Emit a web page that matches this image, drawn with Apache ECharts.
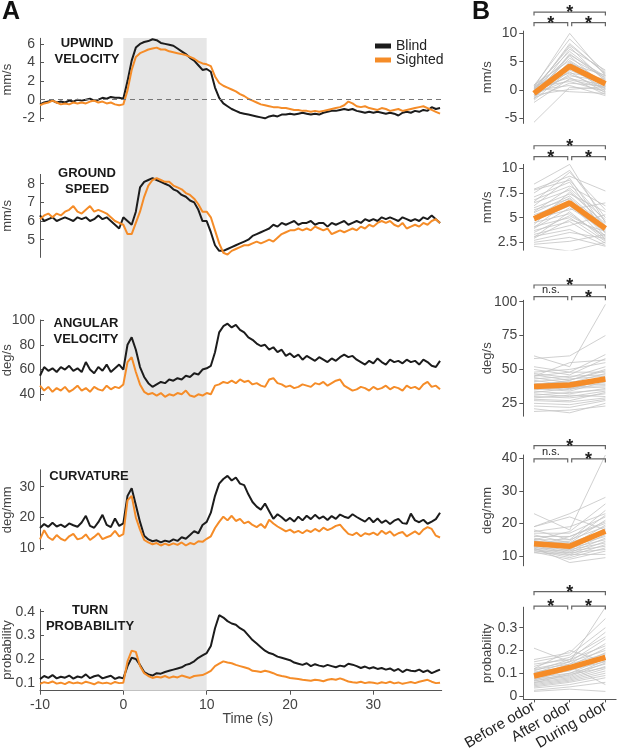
<!DOCTYPE html>
<html>
<head>
<meta charset="utf-8">
<script src="https://cdn.jsdelivr.net/npm/echarts@6/dist/echarts.min.js"></script>
<style>
html,body{margin:0;padding:0;background:#fff}
#chart{width:617px;height:753px}
</style>
</head>
<body>
<div id="chart"></div>
<script>
// time base of the traces in panel A: -10 s .. 38 s, every 0.5 s
var times = [];
for (var i = 0; i < 97; i++) times.push(-10 + i * 0.5);
var timeTicks = [-10, 0, 10, 20, 30];
var odorSpan = [0, 10];

// ---- panel A traces (rows of 10 samples: -10, -5, 0, 5, ... s) ----
var upwindBlind = [
  -0.5,-0.3,-0.2,-0.1,-0.3,-0.2,-0.3,-0.1,-0.2,0.0,
  -0.1,0.0,0.1,-0.1,0.0,0.2,0.1,0.3,0.2,0.2,
  0.1,2.0,4.2,5.6,6.0,6.2,6.3,6.5,6.4,6.1,
  6.0,5.9,5.8,5.5,5.2,4.9,4.5,4.2,3.7,3.2,
  3.3,3.0,1.3,0.2,-0.4,-0.7,-1.0,-1.2,-1.4,-1.5,
  -1.6,-1.7,-1.8,-1.9,-2.0,-1.8,-1.7,-1.8,-1.6,-1.6,
  -1.5,-1.6,-1.5,-1.4,-1.5,-1.6,-1.5,-1.6,-1.4,-1.3,
  -1.2,-1.2,-1.1,-1.0,-1.1,-1.0,-1.2,-1.3,-1.4,-1.3,
  -1.4,-1.3,-1.4,-1.5,-1.4,-1.5,-1.7,-1.4,-1.3,-1.4,
  -1.2,-1.3,-1.1,-1.2,-0.8,-1.0,-0.9
];
var upwindSighted = [
  -0.6,-0.4,-0.3,-0.1,-0.3,-0.5,-0.4,-0.5,-0.3,-0.4,
  -0.3,-0.4,-0.2,-0.1,-0.3,-0.2,-0.4,-0.3,-0.5,-0.6,
  -0.5,1.0,3.2,4.6,5.0,5.2,5.4,5.5,5.6,5.4,
  5.4,5.2,5.1,5.0,4.9,4.8,4.6,4.4,4.1,3.9,
  3.8,3.6,2.5,1.8,1.5,1.3,1.1,0.9,0.6,0.4,
  0.1,-0.1,-0.3,-0.5,-0.6,-0.7,-0.8,-0.8,-0.9,-0.9,
  -1.0,-1.1,-1.1,-1.2,-1.2,-1.3,-1.2,-1.3,-1.2,-1.1,
  -1.0,-0.9,-0.8,-0.6,-0.2,-0.4,-0.7,-0.8,-0.7,-0.9,
  -1.0,-1.1,-0.9,-1.0,-1.2,-1.1,-1.0,-1.2,-1.1,-1.0,
  -0.9,-0.8,-0.7,-0.9,-1.1,-1.3,-1.5
];
var speedBlind = [
  6.3,6.0,6.1,6.2,6.0,6.1,6.2,6.1,6.0,6.2,
  6.1,6.2,6.0,6.1,6.3,6.1,6.2,6.0,5.8,5.6,
  6.2,6.0,5.8,6.5,7.8,8.1,8.2,8.3,8.2,8.1,
  8.0,7.9,7.7,7.6,7.4,7.3,7.1,7.0,6.6,6.0,
  6.0,5.4,4.7,4.4,4.4,4.5,4.6,4.7,4.8,4.9,
  5.0,5.2,5.3,5.4,5.5,5.6,5.8,5.7,5.9,5.8,
  5.9,6.0,5.8,5.9,5.9,6.0,5.8,5.9,5.9,5.7,
  5.9,5.8,5.9,6.0,5.8,5.9,6.0,5.9,6.1,6.0,
  6.1,6.0,6.2,6.1,6.2,6.1,6.0,6.2,6.1,6.0,
  6.1,6.0,6.2,6.1,6.3,6.1,5.9
];
var speedSighted = [
  6.1,6.3,6.4,6.2,6.4,6.3,6.5,6.6,6.8,6.5,
  6.4,6.6,6.8,6.5,6.6,6.5,6.4,6.2,6.0,5.9,
  5.8,5.3,5.3,5.9,6.5,7.3,7.9,8.2,8.3,8.2,
  8.1,8.1,7.9,7.8,7.7,7.5,7.4,7.2,6.9,6.5,
  6.5,6.2,5.5,4.8,4.3,4.2,4.4,4.5,4.6,4.7,
  4.7,4.8,4.9,4.8,4.9,5.0,4.9,5.1,5.3,5.4,
  5.5,5.5,5.6,5.5,5.6,5.5,5.7,5.6,5.5,5.6,
  5.3,5.4,5.5,5.4,5.5,5.6,5.5,5.7,5.6,5.8,
  5.7,5.9,6.0,5.9,6.0,5.8,5.7,5.9,5.6,5.7,
  5.8,5.7,5.9,5.8,6.0,6.1,5.9
];
var angularBlind = [
  55,62,59,61,58,62,60,63,59,61,
  58,66,60,57,62,59,64,58,61,64,
  60,80,86,76,62,54,49,46,48,50,
  49,52,51,53,52,55,54,57,56,60,
  61,63,74,90,95,97,94,96,92,90,
  86,84,81,79,80,76,78,74,76,71,
  73,70,72,68,71,69,67,70,68,66,
  69,67,70,72,70,71,68,66,64,67,
  65,69,66,64,68,66,67,65,68,66,
  67,64,68,66,63,62,67
];
var angularSighted = [
  47,43,46,42,45,43,46,42,44,47,
  43,45,42,46,44,43,47,44,46,45,
  48,66,70,58,48,42,40,41,39,41,
  38,40,39,41,40,43,39,38,40,39,
  41,40,47,48,50,49,51,49,52,50,
  51,48,49,47,46,52,53,49,48,46,
  47,45,46,48,47,46,49,48,50,47,
  49,51,52,47,45,43,44,46,45,43,
  46,44,45,47,44,46,45,43,47,45,
  46,44,48,50,46,47,44
];
var curvBlind = [
  16.5,17.8,16.9,18.2,17.0,17.6,16.8,18.0,17.4,16.9,
  18.3,20.5,17.2,16.6,18.4,20.8,17.5,16.8,19.6,17.2,
  18.0,27.0,29.5,24.0,18.5,14.0,12.8,12.2,12.5,11.8,
  12.4,12.0,12.8,12.3,13.5,13.0,14.2,15.5,14.8,17.5,
  18.5,21.5,27.0,31.0,32.5,33.5,32.0,33.0,31.0,30.5,
  27.5,25.0,23.5,22.5,24.5,22.0,19.5,21.0,20.0,18.8,
  19.8,18.6,20.2,19.0,20.5,19.4,20.8,19.6,20.3,19.1,
  20.4,19.5,20.9,20.2,19.8,21.0,20.1,19.3,18.6,19.9,
  18.4,19.6,18.2,19.0,17.8,18.9,19.5,18.1,17.9,21.2,
  19.0,18.4,19.2,17.9,18.6,19.4,21.5
];
var curvSighted = [
  12.8,15.8,13.5,12.6,14.2,13.0,12.4,13.8,14.6,12.8,
  13.2,14.4,12.6,13.6,14.8,12.9,13.5,14.0,15.6,13.8,
  14.5,25.5,27.0,20.0,16.0,12.6,11.8,11.2,11.6,10.8,
  11.4,10.9,11.5,11.0,11.8,10.8,11.6,11.2,12.2,12.0,
  13.0,13.8,16.5,18.5,20.2,19.0,20.5,18.8,19.5,18.0,
  18.6,17.5,16.8,17.8,16.5,19.2,18.0,17.0,16.2,15.4,
  16.0,15.0,15.6,14.8,15.8,15.2,16.2,15.4,16.6,15.8,
  16.4,17.2,17.6,16.0,14.6,14.2,15.0,13.8,14.8,14.4,
  15.0,14.2,15.6,14.6,15.4,14.0,14.8,15.2,13.8,14.6,
  15.4,14.4,16.0,16.8,16.2,14.0,13.4
];
var turnBlind = [
  0.115,0.128,0.120,0.132,0.118,0.125,0.121,0.130,0.117,0.126,
  0.122,0.135,0.119,0.127,0.131,0.118,0.124,0.129,0.116,0.123,
  0.118,0.170,0.205,0.200,0.175,0.145,0.135,0.130,0.140,0.138,
  0.145,0.150,0.155,0.160,0.165,0.175,0.180,0.190,0.205,0.215,
  0.225,0.255,0.330,0.385,0.375,0.360,0.350,0.345,0.330,0.320,
  0.300,0.280,0.265,0.250,0.235,0.225,0.220,0.210,0.205,0.200,
  0.195,0.185,0.180,0.175,0.182,0.170,0.178,0.172,0.168,0.175,
  0.170,0.165,0.172,0.168,0.180,0.176,0.170,0.162,0.168,0.160,
  0.165,0.158,0.162,0.155,0.160,0.150,0.158,0.145,0.155,0.150,
  0.148,0.155,0.145,0.152,0.140,0.148,0.155
];
var turnSighted = [
  0.095,0.102,0.098,0.105,0.096,0.100,0.094,0.103,0.097,0.101,
  0.096,0.104,0.099,0.093,0.102,0.097,0.100,0.095,0.103,0.098,
  0.100,0.190,0.235,0.230,0.170,0.140,0.128,0.120,0.125,0.122,
  0.128,0.120,0.126,0.122,0.130,0.125,0.120,0.128,0.130,0.132,
  0.140,0.150,0.170,0.180,0.190,0.185,0.182,0.175,0.170,0.165,
  0.160,0.150,0.148,0.145,0.150,0.146,0.140,0.132,0.128,0.125,
  0.120,0.118,0.115,0.112,0.110,0.108,0.112,0.110,0.106,0.112,
  0.115,0.112,0.118,0.112,0.105,0.102,0.100,0.104,0.098,0.102,
  0.100,0.096,0.102,0.098,0.104,0.097,0.101,0.095,0.099,0.103,
  0.098,0.104,0.108,0.112,0.104,0.098,0.100
];

var upwindTicks = [-2, 0, 2, 4, 6];
var speedTicks = [5, 6, 7, 8];
var angularTicks = [40, 60, 80, 100];
var curvTicks = [10, 20, 30];
var turnTicks = [0.1, 0.2, 0.3, 0.4];

// ---- panel B: per-fly values [before, after, during] and the mean ----
var phaseLabels = ['Before odor', 'After odor', 'During odor'];
var upwindFlies = [
  [0.5,10,2.5],[0.8,9,3.2],[-0.3,8.2,2.8],[0.2,7.6,1.5],[-0.8,7.2,3.5],[0.6,6.8,2.0],
  [-1.2,6.4,1.8],[0.1,6.0,0.6],[-0.5,5.6,2.2],[0.9,5.2,1.2],[-1.5,5.0,0.8],[-0.2,4.6,2.6],
  [0.4,4.3,-0.2],[-0.9,4.0,1.4],[0.3,3.8,0.3],[-1.8,3.5,1.0],[-0.6,3.2,-0.5],[0.7,3.0,1.9],
  [-1.1,2.8,0.2],[-0.4,2.5,1.6],[0.2,2.2,-0.8],[-2.2,2.0,0.9],[-0.7,1.8,0.4],[0.5,1.5,-0.3],
  [-1.4,1.2,0.7],[-0.1,0.8,-1.0],[-5.7,0.5,0.1],[-0.9,0.1,0.6],[0.3,-0.3,-0.6],[-1.6,6.2,2.4],
  [0.0,7.9,3.0],[-0.3,4.8,1.1]
];
var upwindMean = [-0.6, 4.2, 1.1];
var speedFlies = [
  [8.4,10.4,4.5],[7.9,9.2,7.7],[7.5,9.8,5.0],[7.1,8.6,3.4],[6.8,8.2,6.2],[6.5,7.8,4.2],
  [6.2,9.0,3.8],[6.0,7.4,5.6],[5.8,6.9,3.1],[5.6,8.0,4.8],[5.3,6.5,2.8],[5.1,7.0,4.0],
  [4.9,5.8,6.5],[4.7,6.2,3.5],[4.5,5.4,3.0],[4.3,7.6,4.4],[4.1,5.0,2.6],[3.9,6.0,3.7],
  [3.7,4.6,2.4],[3.5,5.2,3.2],[3.3,4.2,5.3],[3.1,3.8,2.2],[2.9,4.8,3.6],[2.7,3.5,2.9],
  [2.5,3.0,2.1],[2.3,2.6,3.3],[2.1,1.6,2.5],[6.6,9.6,5.8],[7.8,8.8,4.6],[5.5,7.2,4.1],
  [4.0,6.7,3.9],[3.0,5.6,2.7]
];
var speedMean = [4.9, 6.5, 3.9];
var angularFlies = [
  [60,52,98],[58,60,75],[52,48,61],[50,46,58],[48,50,55],[47,44,52],[46,42,50],[45,48,48],
  [44,40,47],[43,45,46],[42,38,44],[41,43,45],[40,36,42],[39,41,40],[38,35,43],[37,39,39],
  [36,34,41],[35,37,38],[34,32,36],[33,36,37],[32,30,34],[31,33,35],[30,29,32],[29,31,30],
  [28,27,33],[27,26,29],[25,24,28],[23,22,27],[21,18,25],[19,20,23],[45,55,57],[38,42,49]
];
var angularMean = [37.5, 38.5, 43];
var curvFlies = [
  [23,18,41],[19,23,28],[18,15,24],[17,17,22],[16.5,14,21],[16,16,20],[15.5,13,19.5],
  [15,15,19],[14.8,12.5,18.5],[14.5,14,18],[14.2,12,17.5],[14,13.5,17],[13.8,11.5,16.5],
  [13.5,13,16],[13.2,11,15.5],[13,12.5,15],[12.8,10.5,14.5],[12.5,12,14],[12.2,10,13.5],
  [12,11.5,13],[11.8,9.5,12.5],[11.5,11,12],[11.2,9,11.5],[11,10.5,10.5],[12.5,8,9.5],
  [19,22,18],[17.5,19,23],[15,17.5,26],[13,16,20.5],[14,14.5,22.5]
];
var curvMean = [13.8, 13.0, 17.6];
var turnFlies = [
  [0.21,0.15,0.39],[0.16,0.19,0.34],[0.15,0.18,0.30],[0.14,0.16,0.28],[0.13,0.17,0.26],
  [0.12,0.15,0.25],[0.115,0.14,0.23],[0.11,0.16,0.22],[0.105,0.13,0.21],[0.10,0.15,0.20],
  [0.095,0.12,0.19],[0.09,0.14,0.185],[0.088,0.11,0.18],[0.085,0.13,0.17],[0.08,0.10,0.165],
  [0.078,0.12,0.16],[0.075,0.09,0.155],[0.07,0.115,0.15],[0.068,0.085,0.145],[0.065,0.10,0.14],
  [0.06,0.08,0.13],[0.058,0.095,0.125],[0.055,0.075,0.12],[0.05,0.07,0.11],[0.045,0.065,0.10],
  [0.04,0.06,0.09],[0.035,0.05,0.08],[0.025,0.04,0.06],[0.02,0.03,0.02],[0.12,0.20,0.15],
  [0.10,0.13,0.05]
];
var turnMean = [0.088, 0.125, 0.17];

var upwindTicksB = [-5, 0, 5, 10];
var speedTicksB = [2.5, 5, 7.5, 10];
var angularTicksB = [25, 50, 75, 100];
var curvTicksB = [10, 20, 30, 40];
var turnTicksB = [0, 0.1, 0.2, 0.3];
// significance: [before-after, after-during, before-during]
var sigLabels = [
  ['*', '*', '*'],
  ['*', '*', '*'],
  ['n.s.', '*', '*'],
  ['n.s.', '*', '*'],
  ['*', '*', '*']
];

var BLACK = '#1c1c1c', ORANGE = '#f58c28', AXIS = '#555', TXT = '#444';
var FONT = 'Liberation Sans, Arial, Helvetica, sans-serif';

var panelsA = [
  {title: 'UPWIND\nVELOCITY', unit: 'mm/s', blind: upwindBlind, sighted: upwindSighted, ticks: upwindTicks,
   min: -2.3, max: 6.6, top: 38.3, height: 82.8, tx: 87, ty: 51},
  {title: 'GROUND\nSPEED', unit: 'mm/s', blind: speedBlind, sighted: speedSighted, ticks: speedTicks,
   min: 4.05, max: 8.5, top: 174.4, height: 83, tx: 87, ty: 181},
  {title: 'ANGULAR\nVELOCITY', unit: 'deg/s', blind: angularBlind, sighted: angularSighted, ticks: angularTicks,
   min: 35, max: 100, top: 320, height: 80.5, tx: 86, ty: 331},
  {title: 'CURVATURE', unit: 'deg/mm', blind: curvBlind, sighted: curvSighted, ticks: curvTicks,
   min: 9.4, max: 35.5, top: 469.8, height: 80, tx: 89, ty: 476},
  {title: 'TURN\nPROBABILITY', unit: 'probability', blind: turnBlind, sighted: turnSighted, ticks: turnTicks,
   min: 0.066, max: 0.41, top: 609.3, height: 81.4, tx: 90, ty: 618}
];
var panelsB = [
  {unit: 'mm/s', flies: upwindFlies, mean: upwindMean, ticks: upwindTicksB, min: -5.9, max: 10.4,
   top: 31.1, height: 92.3, low: 11.88, high: 13.76},
  {unit: 'mm/s', flies: speedFlies, mean: speedMean, ticks: speedTicksB, min: 1.7, max: 10.4,
   top: 164.4, height: 85.8, low: 11.18, high: 12.29},
  {unit: 'deg/s', flies: angularFlies, mean: angularMean, ticks: angularTicksB, min: 15.5, max: 101,
   top: 300.3, height: 115.9, low: 103.7, high: 112.3},
  {unit: 'deg/mm', flies: curvFlies, mean: curvMean, ticks: curvTicksB, min: 7, max: 41,
   top: 455, height: 110.8, low: 39.8, high: 43.87},
  {unit: 'probability', flies: turnFlies, mean: turnMean, ticks: turnTicksB, min: -0.015, max: 0.39,
   top: 607.2, height: 92.2, low: 0.395, high: 0.458}
];

function pairs(ys) {
  var out = [];
  for (var i = 0; i < ys.length; i++) out.push([times[i], ys[i]]);
  return out;
}

var grids = [], xAxes = [], yAxes = [], series = [], graphics = [];

// grid 0: full-height band for the odor period
grids.push({left: 40, top: 38, width: 401.7, height: 652.7, outerBoundsMode: 'none'});
xAxes.push({gridIndex: 0, type: 'value', min: -10, max: 38.2, show: false});
yAxes.push({gridIndex: 0, type: 'value', min: 0, max: 1, show: false});
series.push({
  type: 'custom', xAxisIndex: 0, yAxisIndex: 0, silent: true, z: 1,
  data: [odorSpan],
  renderItem: function (params, api) {
    var p0 = api.coord([api.value(0), 1]);
    var p1 = api.coord([api.value(1), 0]);
    return {type: 'rect', shape: {x: p0[0], y: p0[1], width: p1[0] - p0[0], height: p1[1] - p0[1]},
            style: {fill: '#e6e6e6'}};
  }
});

panelsA.forEach(function (p, k) {
  var gi = k + 1, last = (k === panelsA.length - 1);
  grids.push({left: 40, top: p.top, width: 401.7, height: p.height, outerBoundsMode: 'none'});
  xAxes.push({
    gridIndex: gi, type: 'value', min: -10, max: 38.2, show: last,
    axisLine: {onZero: false, lineStyle: {color: AXIS}},
    axisTick: {customValues: timeTicks, length: 4, lineStyle: {color: AXIS}},
    axisLabel: {customValues: timeTicks, color: TXT, fontSize: 14, margin: 7},
    splitLine: {show: false},
    name: 'Time (s)', nameLocation: 'middle', nameGap: 21, nameMoveOverlap: false,
    nameTextStyle: {color: TXT, fontSize: 14, padding: [0, 0, 0, 14], verticalAlign: 'top'}
  });
  yAxes.push({
    gridIndex: gi, type: 'value', min: p.min, max: p.max,
    axisLine: {show: true, onZero: false, lineStyle: {color: AXIS}},
    axisTick: {show: true, inside: true, length: 4, customValues: p.ticks, lineStyle: {color: AXIS}},
    axisLabel: {customValues: p.ticks, color: TXT, fontSize: 14, margin: 5},
    splitLine: {show: false},
    name: p.unit, nameLocation: 'middle', nameRotate: 90, nameGap: 26, nameMoveOverlap: false,
    nameTextStyle: {color: TXT, fontSize: 13}
  });
  var blind = {
    name: 'Blind', type: 'line', xAxisIndex: gi, yAxisIndex: gi, data: pairs(p.blind),
    symbol: 'none', color: BLACK, lineStyle: {color: BLACK, width: 2}, itemStyle: {color: BLACK}, z: 3
  };
  if (k === 0) {
    blind.markLine = {
      silent: true, symbol: 'none', label: {show: false},
      lineStyle: {color: '#777', type: [5, 4], width: 1},
      data: [{yAxis: 0}]
    };
  }
  series.push(blind);
  series.push({
    name: 'Sighted', type: 'line', xAxisIndex: gi, yAxisIndex: gi, data: pairs(p.sighted),
    symbol: 'none', color: ORANGE, lineStyle: {color: ORANGE, width: 2}, itemStyle: {color: ORANGE}, z: 4
  });
  graphics.push({
    type: 'text', x: p.tx, y: p.ty, z: 10,
    style: {text: p.title, align: 'center', verticalAlign: 'middle', lineHeight: 16,
            font: 'bold 13px ' + FONT, fill: '#1a1a1a'}
  });
});

panelsB.forEach(function (p, j) {
  var gi = 6 + j, last = (j === panelsB.length - 1);
  grids.push({left: 523.3, top: p.top, width: 92.8, height: p.height, outerBoundsMode: 'none'});
  xAxes.push({
    gridIndex: gi, type: 'value', min: -0.3, max: 2.3, show: last,
    axisLine: {onZero: false, lineStyle: {color: AXIS}},
    axisTick: {customValues: [0, 1, 2], length: 3, lineStyle: {color: AXIS}},
    axisLabel: {customValues: [0, 1, 2], rotate: 30, color: '#222', fontSize: 15, margin: 6,
                formatter: function (v) { return phaseLabels[Math.round(v)]; }},
    splitLine: {show: false}
  });
  yAxes.push({
    gridIndex: gi, type: 'value', min: p.min, max: p.max,
    axisLine: {show: true, onZero: false, lineStyle: {color: AXIS}},
    axisTick: {show: true, length: 4, customValues: p.ticks, lineStyle: {color: AXIS}},
    axisLabel: {customValues: p.ticks, color: TXT, fontSize: 14, margin: 6},
    splitLine: {show: false},
    name: p.unit, nameLocation: 'middle', nameRotate: 90, nameGap: 29, nameMoveOverlap: false,
    nameTextStyle: {color: TXT, fontSize: 13}
  });
  p.flies.forEach(function (f) {
    series.push({
      type: 'line', xAxisIndex: gi, yAxisIndex: gi, silent: true, symbol: 'none', z: 2,
      data: [[0, f[0]], [1, f[1]], [2, f[2]]],
      lineStyle: {color: '#c4c4c4', width: 0.8}
    });
  });
  series.push({
    type: 'line', xAxisIndex: gi, yAxisIndex: gi, silent: true, symbol: 'none', z: 5,
    data: [[0, p.mean[0]], [1, p.mean[1]], [2, p.mean[2]]],
    lineStyle: {color: ORANGE, width: 5.5}
  });
  var labels = sigLabels[j];
  series.push({
    type: 'custom', xAxisIndex: gi, yAxisIndex: gi, silent: true, clip: false, z: 6,
    data: [[0, 1, p.low, 0, 2], [1, 2, p.low, 2, 0], [0, 2, p.high, 0, 0]],
    renderItem: function (params, api) {
      var a = api.coord([api.value(0), api.value(2)]);
      var b = api.coord([api.value(1), api.value(2)]);
      var x0 = a[0] + api.value(3), x1 = b[0] - api.value(4), y = a[1];
      var txt = labels[params.dataIndex];
      var star = txt === '*';
      return {type: 'group', children: [
        {type: 'polyline', shape: {points: [[x0, y + 3.5], [x0, y], [x1, y], [x1, y + 3.5]]},
         style: {stroke: '#666', fill: null, lineWidth: 1.2}},
        {type: 'text', style: {text: txt, x: (x0 + x1) / 2, y: star ? y + 1 : y - 1,
          align: 'center', verticalAlign: star ? 'middle' : 'bottom',
          font: star ? 'bold 18px ' + FONT : '11px ' + FONT, fill: '#222'}}
      ]};
    }
  });
});

graphics.push({type: 'text', x: 2, y: 0, style: {text: 'A', font: 'bold 25px ' + FONT, fill: '#111'}});
graphics.push({type: 'text', x: 472, y: 0, style: {text: 'B', font: 'bold 25px ' + FONT, fill: '#111'}});

var chart = echarts.init(document.getElementById('chart'));
chart.setOption({
  animation: false,
  backgroundColor: '#fff',
  textStyle: {fontFamily: FONT},
  legend: {
    data: ['Blind', 'Sighted'], orient: 'vertical', left: 370, top: 34,
    icon: 'rect', itemWidth: 16, itemHeight: 5, itemGap: 0,
    textStyle: {color: '#222', fontSize: 14}
  },
  grid: grids,
  xAxis: xAxes,
  yAxis: yAxes,
  series: series,
  graphic: graphics
});
</script>
</body>
</html>
